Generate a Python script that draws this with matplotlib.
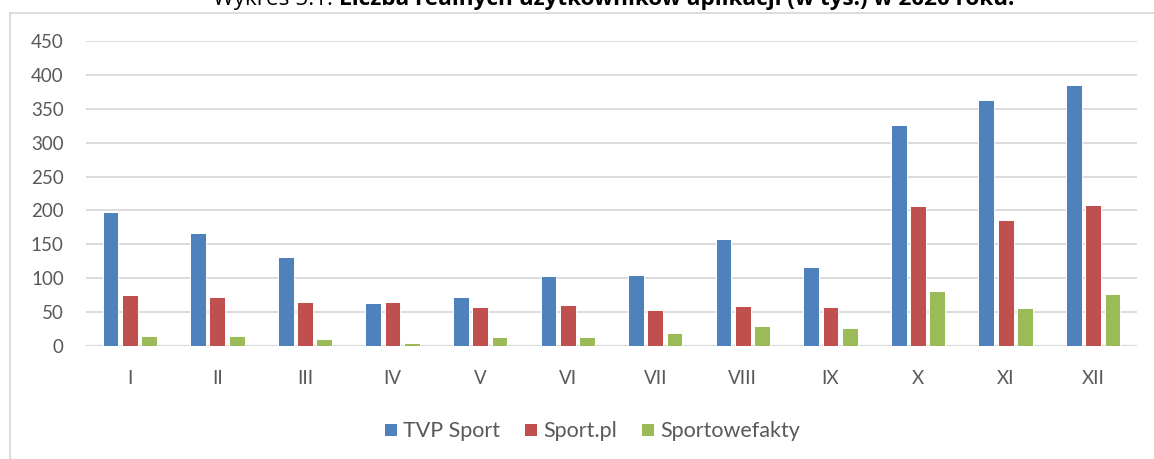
import numpy as np
import matplotlib.pyplot as plt
from matplotlib.lines import Line2D

months = ["I", "II", "III", "IV", "V", "VI", "VII", "VIII", "IX", "X", "XI", "XII"]
tvp_sport = [197, 167, 132, 64, 73, 104, 105, 158, 117, 326, 363, 385]
sport_pl = [75, 73, 65, 65, 58, 61, 53, 59, 58, 206, 186, 208]
sportowefakty = [15, 15, 11, 4, 14, 14, 19, 29, 27, 81, 56, 77]

series_names = ["TVP Sport", "Sport.pl", "Sportowefakty"]
colors = ["#4f81bd", "#c0504d", "#9bbb59"]
text_col = "#595959"
grid_col = "#d9d9d9"

plt.rcParams["font.family"] = ["Lato", "DejaVu Sans"]

W, H = 1154, 459
fig = plt.figure(figsize=(W / 100, H / 100), dpi=100)
ax = fig.add_axes([86 / W, 1 - 346 / H, (1137 - 86) / W, (346 - 41) / H])

x = np.arange(len(months))
bw = 0.18
step = 0.22
for i, (vals, name, c) in enumerate(zip([tvp_sport, sport_pl, sportowefakty], series_names, colors)):
    ax.bar(x + (i - 1) * step, vals, width=bw, color=c, edgecolor="white",
           linewidth=0.7, label=name, zorder=3)

ax.set_xlim(-0.5, len(months) - 0.5)
ax.set_ylim(0, 450)
ax.set_yticks(range(0, 451, 50))
ax.set_xticks(x)
ax.set_xticklabels(months)
ax.yaxis.grid(True, color=grid_col, linewidth=1.3, zorder=0)
ax.set_axisbelow(True)
for s in ax.spines.values():
    s.set_visible(False)
ax.axhline(0, color=grid_col, linewidth=1.6, zorder=2)
ax.tick_params(axis="both", length=0, labelsize=13.5, labelcolor=text_col)
ax.tick_params(axis="y", pad=16)
ax.tick_params(axis="x", pad=17)

ax.legend(loc="center", bbox_to_anchor=(592 / W, 1 - 431 / H), bbox_transform=fig.transFigure,
          ncol=3, frameon=False, fontsize=15.5, handlelength=0.6, handleheight=0.6,
          handletextpad=0.3, columnspacing=1.1, labelcolor=text_col)

# chart frame (only top and left edges fall inside the image)
fig.add_artist(Line2D([10 / W, 10 / W], [0, 1 - 12.5 / H], color=grid_col, lw=1.3,
                      transform=fig.transFigure))
fig.add_artist(Line2D([10 / W, 1], [1 - 12.5 / H, 1 - 12.5 / H], color=grid_col, lw=1.3,
                      transform=fig.transFigure))

# title, cut off at the top edge as in the source
t1 = fig.text(213 / W, 1 - 5 / H, "Wykres 5.1. ", fontsize=16.2, color="black",
              va="baseline", ha="left", family=["Open Sans", "DejaVu Sans"])
fig.canvas.draw()
bb = t1.get_window_extent()
fig.text(bb.x1 / W, 1 - 5 / H, "Liczba realnych użytkowników aplikacji (w tys.) w 2020 roku.",
         fontsize=16.2, fontweight="bold", color="black", va="baseline", ha="left",
         family=["Open Sans", "DejaVu Sans"])

fig.savefig("out.png", dpi=100)
